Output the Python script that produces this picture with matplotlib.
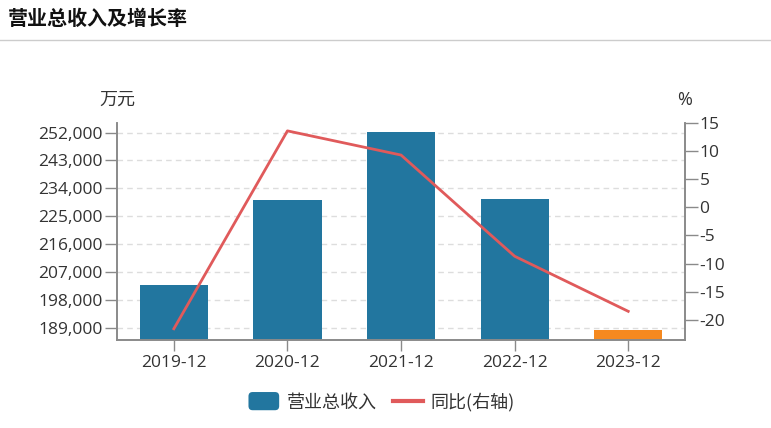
import matplotlib
matplotlib.use("Agg")
import matplotlib.pyplot as plt
import matplotlib.ticker as mticker
from matplotlib.legend_handler import HandlerPatch
from matplotlib.patches import FancyBboxPatch, Patch
from matplotlib.lines import Line2D

plt.rcParams["font.family"] = ["Noto Sans CJK SC", "DejaVu Sans"]
plt.rcParams["axes.unicode_minus"] = False

# ── data ────────────────────────────────────────────────────────────────
periods = ["2019-12", "2020-12", "2021-12", "2022-12", "2023-12"]
revenue = [202650, 230300, 252100, 230700, 188100]  # 万元
yoy_pct = [-21.6, 13.6, 9.3, -8.7, -18.5]  # %
left_ticks = [189000, 198000, 207000, 216000, 225000, 234000, 243000, 252000]
right_ticks = [-20, -15, -10, -5, 0, 5, 10, 15]

# ── palette ─────────────────────────────────────────────────────────────
BAR_COLOR = "#22769f"
LAST_BAR_COLOR = "#f5891f"
LINE_COLOR = "#e05a5b"
AXIS_COLOR = "#8a8a8a"
TEXT_COLOR = "#333333"
GRID_COLOR = "#dddddd"
NUM_FONT = ["Open Sans", "Noto Sans CJK SC"]


class RoundBoxHandler(HandlerPatch):
    def create_artists(self, legend, orig_handle, xdescent, ydescent,
                       width, height, fontsize, trans):
        p = FancyBboxPatch((-xdescent, -ydescent - 2), width, height + 4,
                           boxstyle="round,pad=0,rounding_size=3",
                           facecolor=orig_handle.get_facecolor(),
                           edgecolor="none", transform=trans)
        return [p]


fig = plt.figure(figsize=(7.71, 4.28), dpi=100)
ax = fig.add_axes([0.1518, 0.2056, 0.7367, 0.507])

# title + separator
fig.text(8 / 771, 1 - 18 / 428, "营业总收入及增长率", fontsize=14.4,
         fontweight="bold", ha="left", va="center", color="#111111")
fig.add_artist(Line2D([0, 1], [1 - 39.5 / 428] * 2, color="#cccccc", lw=1))

x = list(range(len(periods)))
colors = [BAR_COLOR] * (len(periods) - 1) + [LAST_BAR_COLOR]
ax.bar(x, revenue, width=0.6, color=colors, zorder=2)
ax.set_xlim(-0.5, len(periods) - 0.5)
ax.set_ylim(185000, 255100)
ax.set_yticks(left_ticks)
ax.yaxis.set_major_formatter(mticker.StrMethodFormatter("{x:,.0f}"))
ax.set_xticks(x)
ax.set_xticklabels(periods)
ax.set_axisbelow(True)
ax.grid(axis="y", color=GRID_COLOR, ls=(0, (4, 3)), lw=1)

ax2 = ax.twinx()
ax2.plot(x, yoy_pct, color=LINE_COLOR, lw=2, zorder=3)
ax2.set_ylim(-23.6, 15)
ax2.set_yticks(right_ticks)

for a in (ax, ax2):
    a.spines["top"].set_visible(False)
    for s in ("left", "right", "bottom"):
        a.spines[s].set_color(AXIS_COLOR)
        a.spines[s].set_linewidth(1.2)
    a.tick_params(axis="y", length=9, width=1, color=AXIS_COLOR, pad=1.5,
                  labelsize=12.5, labelcolor=TEXT_COLOR)
ax.tick_params(axis="x", length=8, width=1, color=AXIS_COLOR, pad=3,
               labelsize=12.5, labelcolor=TEXT_COLOR)
for lbl in ax.get_xticklabels() + ax.get_yticklabels() + ax2.get_yticklabels():
    lbl.set_family(NUM_FONT)

ax.text(0, 1.106, "万元", transform=ax.transAxes, ha="center", va="center",
        fontsize=13, color=TEXT_COLOR)
ax.text(1, 1.106, "%", transform=ax.transAxes, ha="center", va="center",
        fontsize=13, color=TEXT_COLOR, family=NUM_FONT)

handles = [Patch(facecolor=BAR_COLOR), Line2D([], [], color=LINE_COLOR, lw=3)]
fig.legend(handles, ["营业总收入", "同比(右轴)"], loc="center",
           bbox_to_anchor=(0.495, 1 - 402 / 428), ncol=2, frameon=False,
           fontsize=13, handlelength=1.7, handletextpad=0.4, columnspacing=0.9,
           labelcolor=TEXT_COLOR, handler_map={Patch: RoundBoxHandler()})

fig.savefig("out.png", dpi=100)
